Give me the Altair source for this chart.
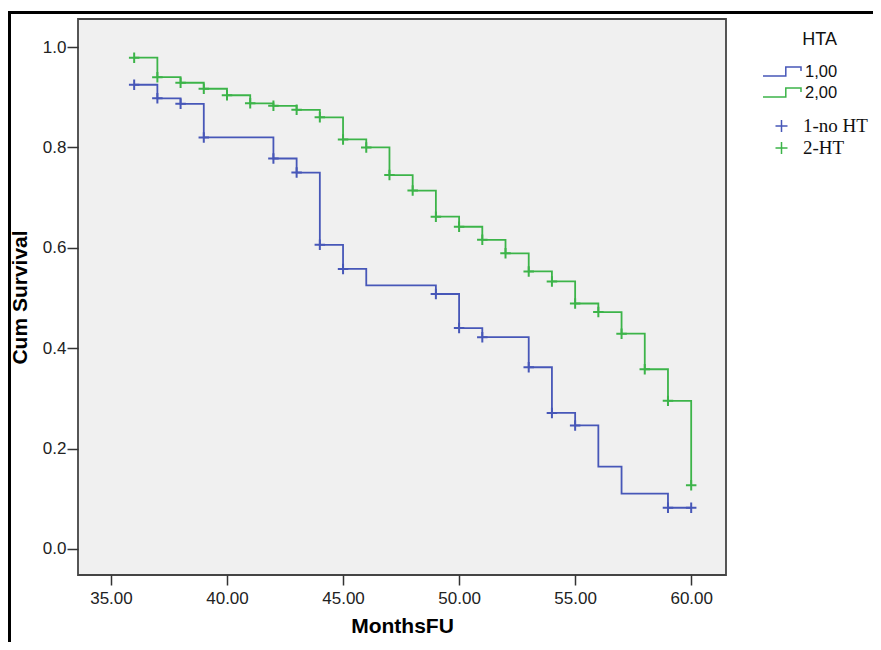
import altair as alt
import pandas as pd

# ---- data ----
blue_months = [36, 37, 38, 39, 42, 43, 44, 45, 46, 49, 50, 51, 53, 54, 55, 56, 57, 59, 60]
blue_surv = [0.925, 0.898, 0.887, 0.820, 0.778, 0.750, 0.606, 0.558, 0.525, 0.508,
             0.440, 0.422, 0.362, 0.271, 0.246, 0.164, 0.110, 0.082, 0.082]
blue_censor_months = [36, 37, 38, 39, 42, 43, 44, 45, 49, 50, 51, 53, 54, 55, 59, 60]

green_months = [36, 37, 38, 39, 40, 41, 42, 43, 44, 45, 46, 47, 48, 49, 50, 51, 52,
                53, 54, 55, 56, 57, 58, 59, 60]
green_surv = [0.979, 0.940, 0.929, 0.917, 0.904, 0.888, 0.883, 0.875, 0.860, 0.816,
              0.800, 0.745, 0.714, 0.662, 0.642, 0.616, 0.589, 0.553, 0.533, 0.489,
              0.472, 0.429, 0.358, 0.295, 0.127]
green_censor_months = [36, 37, 38, 39, 40, 41, 42, 43, 44, 45, 46, 47, 48, 49, 50, 51,
                       52, 53, 54, 55, 56, 57, 58, 59, 60]

line_groups = ["1,00", "2,00"]
censor_groups = ["1-no HT", "2-HT"]
x_ticks = [35, 40, 45, 50, 55, 60]
y_ticks = [0.0, 0.2, 0.4, 0.6, 0.8, 1.0]

BLUE = "#4757b8"
GREEN = "#3cb449"

lines_df = pd.DataFrame({
    "MonthsFU": blue_months + green_months,
    "Survival": blue_surv + green_surv,
    "HTA": [line_groups[0]] * len(blue_months) + [line_groups[1]] * len(green_months),
})

blue_lookup = dict(zip(blue_months, blue_surv))
green_lookup = dict(zip(green_months, green_surv))
censor_df = pd.DataFrame({
    "MonthsFU": blue_censor_months + green_censor_months,
    "Survival": [blue_lookup[m] for m in blue_censor_months] + [green_lookup[m] for m in green_censor_months],
    "Censored": [censor_groups[0]] * len(blue_censor_months) + [censor_groups[1]] * len(green_censor_months),
})

x_scale = alt.Scale(domain=[33.58, 61.5], nice=False, zero=False)
y_scale = alt.Scale(domain=[-0.052, 1.056], nice=False, zero=False)

x_enc = alt.X("MonthsFU:Q", scale=x_scale,
              axis=alt.Axis(title="MonthsFU", values=x_ticks, format=".2f",
                            tickSize=10, labelPadding=5, titlePadding=9))
y_enc = alt.Y("Survival:Q", scale=y_scale,
              axis=alt.Axis(title="Cum Survival", values=y_ticks, format=".1f",
                            tickSize=11, labelPadding=1, titlePadding=12))

step_path = "M-1,0.24H0.2V-0.24H1V-0.02"
cross_path = "M-1,0H1M0,-1V1"

lines = alt.Chart(lines_df).mark_line(interpolate="step-after", strokeWidth=1.8).encode(
    x=x_enc,
    y=y_enc,
    color=alt.Color("HTA:N", scale=alt.Scale(domain=line_groups, range=[BLUE, GREEN]),
                    legend=alt.Legend(title="HTA", orient="none", legendX=684, legendY=12,
                                      symbolType=step_path, symbolSize=1444,
                                      symbolStrokeWidth=1.5, symbolFillColor="transparent",
                                      labelFont="Liberation Sans", labelFontSize=16.5,
                                      labelColor="#111", labelOffset=3,
                                      titleFont="Liberation Sans", titleFontSize=18,
                                      titleFontWeight="normal", titleColor="#111",
                                      titleAnchor="end", titlePadding=12,
                                      clipHeight=21, rowPadding=0, padding=0)),
    detail="HTA:N",
)

points = alt.Chart(censor_df).mark_point(shape=cross_path, size=110, strokeWidth=2,
                                         filled=False, opacity=1).encode(
    x="MonthsFU:Q",
    y="Survival:Q",
    stroke=alt.Stroke("Censored:N", scale=alt.Scale(domain=censor_groups, range=[BLUE, GREEN]),
                      legend=alt.Legend(title=None, orient="none", legendX=694, legendY=96,
                                        symbolType=cross_path, symbolSize=144,
                                        symbolStrokeWidth=1.5,
                                        labelFont="Liberation Serif", labelFontSize=19,
                                        labelColor="#111", labelOffset=12,
                                        clipHeight=22, rowPadding=0, padding=0)),
)

frame = alt.Chart(pd.DataFrame({"k": [0]})).mark_rect(
    fill="transparent", stroke="black", strokeWidth=3
).encode(
    x=alt.value(-68.5), x2=alt.value(900), y=alt.value(-6.5), y2=alt.value(700)
)

chart = alt.layer(frame, lines, points).properties(
    width=648, height=556,
    autosize=alt.AutoSizeParams(type="none"),
    padding={"left": 70, "top": 11, "right": 147, "bottom": 67},
    background="white",
).resolve_legend(color="independent", stroke="independent").configure_view(
    fill="#f0f0f0", stroke="#444", strokeWidth=1.8
).configure_axis(
    domain=False, grid=False, tickColor="#333", tickWidth=1.5,
    labelFont="Liberation Sans", labelFontSize=17, labelColor="#222",
    titleFont="Liberation Sans", titleFontSize=21, titleFontWeight="bold", titleColor="#000"
)

chart.save("out.html", embed_options={"renderer": "svg", "actions": False})
